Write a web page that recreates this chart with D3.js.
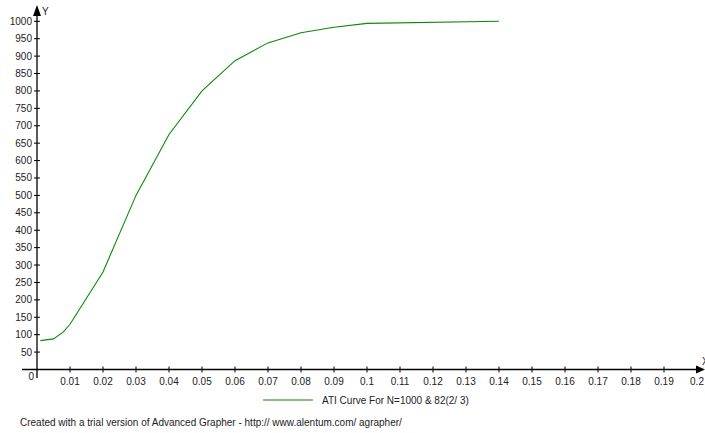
<!DOCTYPE html>
<html>
<head>
<meta charset="utf-8">
<script src="https://cdn.jsdelivr.net/npm/d3@7"></script>
<style>
    body { margin: 0; background: #fff; }
    svg text { font-family: "Liberation Sans", Arial, sans-serif; fill: #222; }
</style>
</head>
<body>
<svg id="chart" width="705" height="433"></svg>
<script>
const xValues = [0.001, 0.005, 0.008, 0.01, 0.02, 0.03, 0.04, 0.05, 0.06, 0.07, 0.08, 0.09, 0.1, 0.14];
const yValues = [83, 88, 108, 130, 280, 500, 675, 800, 887, 938, 967, 983, 994, 1000];
const xTicks = [0.01, 0.02, 0.03, 0.04, 0.05, 0.06, 0.07, 0.08, 0.09, 0.1, 0.11, 0.12, 0.13, 0.14, 0.15, 0.16, 0.17, 0.18, 0.19, 0.2];
const yTicks = d3.range(50, 1001, 50);
const seriesName = 'ATI Curve For N=1000 & 82(2/ 3)';
const footer = 'Created with a trial version of Advanced Grapher - http:// www.alentum.com/ agrapher/';

const width = 705, height = 433;
const svg = d3.select('#chart');

const x = d3.scaleLinear().domain([0, 0.2]).range([37, 697]);
const y = d3.scaleLinear().domain([0, 1000]).range([369.5, 21.3]);

// x axis
const xAxis = svg.append('g').attr('transform', `translate(0, ${y(0)})`);
xAxis.append('line')
    .attr('x1', 22).attr('x2', 700)
    .attr('stroke', '#000').attr('stroke-width', 1.3);
xAxis.append('path')
    .attr('d', 'M696,-4L705,0L696,4Z')
    .attr('fill', '#000');
xAxis.selectAll('.tick')
    .data(xTicks)
    .enter().append('line')
    .attr('x1', d => x(d)).attr('x2', d => x(d))
    .attr('y1', -3).attr('y2', 3)
    .attr('stroke', '#000');
xAxis.selectAll('.lbl')
    .data(xTicks)
    .enter().append('text')
    .attr('x', d => x(d)).attr('y', 15)
    .attr('text-anchor', 'middle')
    .style('font-size', '10px')
    .text(d => d3.format('')(d));
xAxis.append('text')
    .attr('x', 702).attr('y', -5)
    .style('font-size', '10px')
    .text('X');

// y axis
const yAxis = svg.append('g').attr('transform', `translate(${x(0)}, 0)`);
yAxis.append('line')
    .attr('y1', 378).attr('y2', 12)
    .attr('stroke', '#000').attr('stroke-width', 1.3);
yAxis.append('path')
    .attr('d', 'M-4,16L0,5L4,16Z')
    .attr('fill', '#000');
yAxis.selectAll('.tick')
    .data(yTicks)
    .enter().append('line')
    .attr('x1', -3).attr('x2', 3)
    .attr('y1', d => y(d)).attr('y2', d => y(d))
    .attr('stroke', '#000');
yAxis.selectAll('.lbl')
    .data(yTicks)
    .enter().append('text')
    .attr('x', -5).attr('y', d => y(d) + 3.5)
    .attr('text-anchor', 'end')
    .style('font-size', '10px')
    .text(d => d);
yAxis.append('text')
    .attr('x', -3).attr('y', y(0) + 10)
    .attr('text-anchor', 'end')
    .style('font-size', '10px')
    .text('0');
yAxis.append('text')
    .attr('x', 5).attr('y', 15)
    .style('font-size', '10px')
    .text('Y');

// curve
const line = d3.line()
    .x((d, i) => x(xValues[i]))
    .y(d => y(d));
svg.append('path')
    .datum(yValues)
    .attr('d', line)
    .attr('fill', 'none')
    .attr('stroke', '#0a8a0a')
    .attr('stroke-width', 1.1);

// legend
svg.append('line')
    .attr('x1', 263).attr('x2', 313)
    .attr('y1', 400).attr('y2', 400)
    .attr('stroke', '#0a8a0a').attr('stroke-width', 1.1);
svg.append('text')
    .attr('x', 322).attr('y', 404)
    .style('font-size', '10px')
    .text(seriesName);

svg.append('text')
    .attr('x', 20).attr('y', 426)
    .style('font-size', '10px')
    .text(footer);
</script>
</body>
</html>
